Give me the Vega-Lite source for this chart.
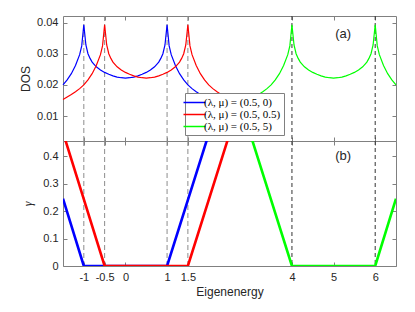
{
  "$schema": "https://vega.github.io/schema/vega-lite/v6.json",
  "padding": {"left": 19, "top": 15, "right": 20, "bottom": 5},
  "spacing": 0,
  "bounds": "flush",
  "config": {
    "view": {"stroke": "#808080", "strokeWidth": 1},
    "axis": {
      "domain": false, "grid": false,
      "labelFont": "Liberation Sans", "labelFontSize": 11, "labelColor": "#262626",
      "titleFont": "Liberation Sans", "titleFontSize": 12, "titleColor": "#262626", "titleFontWeight": "normal",
      "tickColor": "#808080", "tickSize": -4, "labelPadding": 9, "labelExpr": "datum.value + ''"
    },
    "legend": {"zindex": 1}
  },
  "datasets": {
    "dos": [
      {"s": "(λ, μ) = (0.5, 0)", "x": -1.5, "y": 0.0200},
      {"s": "(λ, μ) = (0.5, 0)", "x": -1.4, "y": 0.0216},
      {"s": "(λ, μ) = (0.5, 0)", "x": -1.3, "y": 0.0236},
      {"s": "(λ, μ) = (0.5, 0)", "x": -1.2, "y": 0.0262},
      {"s": "(λ, μ) = (0.5, 0)", "x": -1.1, "y": 0.0297},
      {"s": "(λ, μ) = (0.5, 0)", "x": -1.05, "y": 0.0325},
      {"s": "(λ, μ) = (0.5, 0)", "x": -1.0, "y": 0.0393},
      {"s": "(λ, μ) = (0.5, 0)", "x": -0.95, "y": 0.0328},
      {"s": "(λ, μ) = (0.5, 0)", "x": -0.9, "y": 0.0300},
      {"s": "(λ, μ) = (0.5, 0)", "x": -0.85, "y": 0.0285},
      {"s": "(λ, μ) = (0.5, 0)", "x": -0.8, "y": 0.0273},
      {"s": "(λ, μ) = (0.5, 0)", "x": -0.7, "y": 0.0258},
      {"s": "(λ, μ) = (0.5, 0)", "x": -0.6, "y": 0.0248},
      {"s": "(λ, μ) = (0.5, 0)", "x": -0.5, "y": 0.0240},
      {"s": "(λ, μ) = (0.5, 0)", "x": -0.4, "y": 0.0234},
      {"s": "(λ, μ) = (0.5, 0)", "x": -0.3, "y": 0.0229},
      {"s": "(λ, μ) = (0.5, 0)", "x": -0.2, "y": 0.0225},
      {"s": "(λ, μ) = (0.5, 0)", "x": -0.1, "y": 0.0223},
      {"s": "(λ, μ) = (0.5, 0)", "x": 0.0, "y": 0.0222},
      {"s": "(λ, μ) = (0.5, 0)", "x": 0.1, "y": 0.0223},
      {"s": "(λ, μ) = (0.5, 0)", "x": 0.2, "y": 0.0225},
      {"s": "(λ, μ) = (0.5, 0)", "x": 0.3, "y": 0.0229},
      {"s": "(λ, μ) = (0.5, 0)", "x": 0.4, "y": 0.0234},
      {"s": "(λ, μ) = (0.5, 0)", "x": 0.5, "y": 0.0240},
      {"s": "(λ, μ) = (0.5, 0)", "x": 0.6, "y": 0.0248},
      {"s": "(λ, μ) = (0.5, 0)", "x": 0.7, "y": 0.0258},
      {"s": "(λ, μ) = (0.5, 0)", "x": 0.8, "y": 0.0273},
      {"s": "(λ, μ) = (0.5, 0)", "x": 0.85, "y": 0.0285},
      {"s": "(λ, μ) = (0.5, 0)", "x": 0.9, "y": 0.0300},
      {"s": "(λ, μ) = (0.5, 0)", "x": 0.95, "y": 0.0328},
      {"s": "(λ, μ) = (0.5, 0)", "x": 1.0, "y": 0.0393},
      {"s": "(λ, μ) = (0.5, 0)", "x": 1.05, "y": 0.0325},
      {"s": "(λ, μ) = (0.5, 0)", "x": 1.1, "y": 0.0297},
      {"s": "(λ, μ) = (0.5, 0)", "x": 1.2, "y": 0.0262},
      {"s": "(λ, μ) = (0.5, 0)", "x": 1.3, "y": 0.0236},
      {"s": "(λ, μ) = (0.5, 0)", "x": 1.4, "y": 0.0216},
      {"s": "(λ, μ) = (0.5, 0)", "x": 1.5, "y": 0.0200},
      {"s": "(λ, μ) = (0.5, 0)", "x": 1.6, "y": 0.0188},
      {"s": "(λ, μ) = (0.5, 0)", "x": 1.7, "y": 0.0178},
      {"s": "(λ, μ) = (0.5, 0)", "x": 1.8, "y": 0.0169},
      {"s": "(λ, μ) = (0.5, 0)", "x": 1.9, "y": 0.0161},
      {"s": "(λ, μ) = (0.5, 0)", "x": 2.0, "y": 0.0153},
      {"s": "(λ, μ) = (0.5, 0)", "x": 2.2, "y": 0.0140},
      {"s": "(λ, μ) = (0.5, 0)", "x": 2.4, "y": 0.0129},
      {"s": "(λ, μ) = (0.5, 0)", "x": 2.6, "y": 0.0120},

      {"s": "(λ, μ) = (0.5, 0.5)", "x": -1.5, "y": 0.0153},
      {"s": "(λ, μ) = (0.5, 0.5)", "x": -1.4, "y": 0.0161},
      {"s": "(λ, μ) = (0.5, 0.5)", "x": -1.3, "y": 0.0169},
      {"s": "(λ, μ) = (0.5, 0.5)", "x": -1.2, "y": 0.0178},
      {"s": "(λ, μ) = (0.5, 0.5)", "x": -1.1, "y": 0.0188},
      {"s": "(λ, μ) = (0.5, 0.5)", "x": -1.0, "y": 0.0200},
      {"s": "(λ, μ) = (0.5, 0.5)", "x": -0.9, "y": 0.0216},
      {"s": "(λ, μ) = (0.5, 0.5)", "x": -0.8, "y": 0.0236},
      {"s": "(λ, μ) = (0.5, 0.5)", "x": -0.7, "y": 0.0262},
      {"s": "(λ, μ) = (0.5, 0.5)", "x": -0.6, "y": 0.0297},
      {"s": "(λ, μ) = (0.5, 0.5)", "x": -0.55, "y": 0.0325},
      {"s": "(λ, μ) = (0.5, 0.5)", "x": -0.5, "y": 0.0393},
      {"s": "(λ, μ) = (0.5, 0.5)", "x": -0.45, "y": 0.0328},
      {"s": "(λ, μ) = (0.5, 0.5)", "x": -0.4, "y": 0.0300},
      {"s": "(λ, μ) = (0.5, 0.5)", "x": -0.35, "y": 0.0285},
      {"s": "(λ, μ) = (0.5, 0.5)", "x": -0.3, "y": 0.0273},
      {"s": "(λ, μ) = (0.5, 0.5)", "x": -0.2, "y": 0.0258},
      {"s": "(λ, μ) = (0.5, 0.5)", "x": -0.1, "y": 0.0248},
      {"s": "(λ, μ) = (0.5, 0.5)", "x": 0.0, "y": 0.0240},
      {"s": "(λ, μ) = (0.5, 0.5)", "x": 0.1, "y": 0.0234},
      {"s": "(λ, μ) = (0.5, 0.5)", "x": 0.2, "y": 0.0229},
      {"s": "(λ, μ) = (0.5, 0.5)", "x": 0.3, "y": 0.0225},
      {"s": "(λ, μ) = (0.5, 0.5)", "x": 0.4, "y": 0.0223},
      {"s": "(λ, μ) = (0.5, 0.5)", "x": 0.5, "y": 0.0222},
      {"s": "(λ, μ) = (0.5, 0.5)", "x": 0.6, "y": 0.0223},
      {"s": "(λ, μ) = (0.5, 0.5)", "x": 0.7, "y": 0.0225},
      {"s": "(λ, μ) = (0.5, 0.5)", "x": 0.8, "y": 0.0229},
      {"s": "(λ, μ) = (0.5, 0.5)", "x": 0.9, "y": 0.0234},
      {"s": "(λ, μ) = (0.5, 0.5)", "x": 1.0, "y": 0.0240},
      {"s": "(λ, μ) = (0.5, 0.5)", "x": 1.1, "y": 0.0248},
      {"s": "(λ, μ) = (0.5, 0.5)", "x": 1.2, "y": 0.0258},
      {"s": "(λ, μ) = (0.5, 0.5)", "x": 1.3, "y": 0.0273},
      {"s": "(λ, μ) = (0.5, 0.5)", "x": 1.35, "y": 0.0285},
      {"s": "(λ, μ) = (0.5, 0.5)", "x": 1.4, "y": 0.0300},
      {"s": "(λ, μ) = (0.5, 0.5)", "x": 1.45, "y": 0.0328},
      {"s": "(λ, μ) = (0.5, 0.5)", "x": 1.5, "y": 0.0393},
      {"s": "(λ, μ) = (0.5, 0.5)", "x": 1.55, "y": 0.0325},
      {"s": "(λ, μ) = (0.5, 0.5)", "x": 1.6, "y": 0.0297},
      {"s": "(λ, μ) = (0.5, 0.5)", "x": 1.7, "y": 0.0262},
      {"s": "(λ, μ) = (0.5, 0.5)", "x": 1.8, "y": 0.0236},
      {"s": "(λ, μ) = (0.5, 0.5)", "x": 1.9, "y": 0.0216},
      {"s": "(λ, μ) = (0.5, 0.5)", "x": 2.0, "y": 0.0200},
      {"s": "(λ, μ) = (0.5, 0.5)", "x": 2.1, "y": 0.0188},
      {"s": "(λ, μ) = (0.5, 0.5)", "x": 2.2, "y": 0.0178},
      {"s": "(λ, μ) = (0.5, 0.5)", "x": 2.3, "y": 0.0169},
      {"s": "(λ, μ) = (0.5, 0.5)", "x": 2.4, "y": 0.0161},
      {"s": "(λ, μ) = (0.5, 0.5)", "x": 2.5, "y": 0.0153},
      {"s": "(λ, μ) = (0.5, 0.5)", "x": 2.7, "y": 0.0140},
      {"s": "(λ, μ) = (0.5, 0.5)", "x": 2.9, "y": 0.0129},
      {"s": "(λ, μ) = (0.5, 0.5)", "x": 3.1, "y": 0.0120},

      {"s": "(λ, μ) = (0.5, 5)", "x": 2.4, "y": 0.0120},
      {"s": "(λ, μ) = (0.5, 5)", "x": 2.6, "y": 0.0129},
      {"s": "(λ, μ) = (0.5, 5)", "x": 2.8, "y": 0.0140},
      {"s": "(λ, μ) = (0.5, 5)", "x": 3.0, "y": 0.0153},
      {"s": "(λ, μ) = (0.5, 5)", "x": 3.1, "y": 0.0161},
      {"s": "(λ, μ) = (0.5, 5)", "x": 3.2, "y": 0.0169},
      {"s": "(λ, μ) = (0.5, 5)", "x": 3.3, "y": 0.0178},
      {"s": "(λ, μ) = (0.5, 5)", "x": 3.4, "y": 0.0188},
      {"s": "(λ, μ) = (0.5, 5)", "x": 3.5, "y": 0.0200},
      {"s": "(λ, μ) = (0.5, 5)", "x": 3.6, "y": 0.0216},
      {"s": "(λ, μ) = (0.5, 5)", "x": 3.7, "y": 0.0236},
      {"s": "(λ, μ) = (0.5, 5)", "x": 3.8, "y": 0.0262},
      {"s": "(λ, μ) = (0.5, 5)", "x": 3.9, "y": 0.0297},
      {"s": "(λ, μ) = (0.5, 5)", "x": 3.95, "y": 0.0325},
      {"s": "(λ, μ) = (0.5, 5)", "x": 4.0, "y": 0.0393},
      {"s": "(λ, μ) = (0.5, 5)", "x": 4.05, "y": 0.0328},
      {"s": "(λ, μ) = (0.5, 5)", "x": 4.1, "y": 0.0300},
      {"s": "(λ, μ) = (0.5, 5)", "x": 4.15, "y": 0.0285},
      {"s": "(λ, μ) = (0.5, 5)", "x": 4.2, "y": 0.0273},
      {"s": "(λ, μ) = (0.5, 5)", "x": 4.3, "y": 0.0258},
      {"s": "(λ, μ) = (0.5, 5)", "x": 4.4, "y": 0.0248},
      {"s": "(λ, μ) = (0.5, 5)", "x": 4.5, "y": 0.0240},
      {"s": "(λ, μ) = (0.5, 5)", "x": 4.6, "y": 0.0234},
      {"s": "(λ, μ) = (0.5, 5)", "x": 4.7, "y": 0.0229},
      {"s": "(λ, μ) = (0.5, 5)", "x": 4.8, "y": 0.0225},
      {"s": "(λ, μ) = (0.5, 5)", "x": 4.9, "y": 0.0223},
      {"s": "(λ, μ) = (0.5, 5)", "x": 5.0, "y": 0.0222},
      {"s": "(λ, μ) = (0.5, 5)", "x": 5.1, "y": 0.0223},
      {"s": "(λ, μ) = (0.5, 5)", "x": 5.2, "y": 0.0225},
      {"s": "(λ, μ) = (0.5, 5)", "x": 5.3, "y": 0.0229},
      {"s": "(λ, μ) = (0.5, 5)", "x": 5.4, "y": 0.0234},
      {"s": "(λ, μ) = (0.5, 5)", "x": 5.5, "y": 0.0240},
      {"s": "(λ, μ) = (0.5, 5)", "x": 5.6, "y": 0.0248},
      {"s": "(λ, μ) = (0.5, 5)", "x": 5.7, "y": 0.0258},
      {"s": "(λ, μ) = (0.5, 5)", "x": 5.8, "y": 0.0273},
      {"s": "(λ, μ) = (0.5, 5)", "x": 5.85, "y": 0.0285},
      {"s": "(λ, μ) = (0.5, 5)", "x": 5.9, "y": 0.0300},
      {"s": "(λ, μ) = (0.5, 5)", "x": 5.95, "y": 0.0328},
      {"s": "(λ, μ) = (0.5, 5)", "x": 6.0, "y": 0.0393},
      {"s": "(λ, μ) = (0.5, 5)", "x": 6.05, "y": 0.0325},
      {"s": "(λ, μ) = (0.5, 5)", "x": 6.1, "y": 0.0297},
      {"s": "(λ, μ) = (0.5, 5)", "x": 6.2, "y": 0.0262},
      {"s": "(λ, μ) = (0.5, 5)", "x": 6.3, "y": 0.0236},
      {"s": "(λ, μ) = (0.5, 5)", "x": 6.4, "y": 0.0216},
      {"s": "(λ, μ) = (0.5, 5)", "x": 6.5, "y": 0.0200}
    ],
    "gamma": [
      {"s": "(λ, μ) = (0.5, 0)", "x": -1.5, "y": 0.245},
      {"s": "(λ, μ) = (0.5, 0)", "x": -1.0, "y": 0},
      {"s": "(λ, μ) = (0.5, 0)", "x": 1.0, "y": 0},
      {"s": "(λ, μ) = (0.5, 0)", "x": 2.0, "y": 0.48},
      {"s": "(λ, μ) = (0.5, 0.5)", "x": -1.5, "y": 0.486},
      {"s": "(λ, μ) = (0.5, 0.5)", "x": -0.5, "y": 0},
      {"s": "(λ, μ) = (0.5, 0.5)", "x": 1.5, "y": 0},
      {"s": "(λ, μ) = (0.5, 0.5)", "x": 2.5, "y": 0.48},
      {"s": "(λ, μ) = (0.5, 5)", "x": 3.0, "y": 0.48},
      {"s": "(λ, μ) = (0.5, 5)", "x": 4.0, "y": 0},
      {"s": "(λ, μ) = (0.5, 5)", "x": 6.0, "y": 0},
      {"s": "(λ, μ) = (0.5, 5)", "x": 6.5, "y": 0.245}
    ],
    "edges": [
      {"x": -1, "group": "a"}, {"x": -0.5, "group": "a"}, {"x": 1, "group": "a"}, {"x": 1.5, "group": "a"},
      {"x": 4, "group": "b"}, {"x": 6, "group": "b"}
    ],
    "tagA": [{"x": 5.23, "y": 0.0362, "t": "(a)"}],
    "tagB": [{"x": 5.23, "y": 0.4, "t": "(b)"}]
  },
  "resolve": {"scale": {"color": "independent"}, "legend": {"color": "independent"}},
  "vconcat": [
    {
      "width": 333, "height": 125,
      "resolve": {"axis": {"x": "independent", "y": "independent"}},
      "layer": [
        {
          "data": {"name": "edges"},
          "transform": [{"filter": "datum.group == 'a'"}],
          "mark": {"type": "rule", "color": "#8c8c8c", "strokeDash": [5, 3], "strokeWidth": 1},
          "encoding": {"x": {"field": "x", "type": "quantitative", "scale": {"domain": [-1.5, 6.5], "nice": false, "zero": false}, "axis": null}}
        },
        {
          "data": {"name": "edges"},
          "transform": [{"filter": "datum.group == 'b'"}],
          "mark": {"type": "rule", "color": "#333333", "strokeDash": [4, 3], "strokeWidth": 1},
          "encoding": {"x": {"field": "x", "type": "quantitative", "axis": null}}
        },
        {
          "data": {"name": "dos"},
          "mark": {"type": "line", "strokeWidth": 1.2},
          "encoding": {
            "x": {"field": "x", "type": "quantitative", "axis": {"orient": "bottom", "values": [-1, -0.5, 0, 1, 1.5, 4, 5, 6], "labels": false, "title": null}},
            "y": {"field": "y", "type": "quantitative", "scale": {"domain": [0.002, 0.0421], "nice": false, "zero": false}, "axis": {"orient": "left", "values": [0.01, 0.02, 0.03, 0.04], "title": "DOS", "titlePadding": 4}},
            "color": {"field": "s", "type": "nominal", "scale": {"domain": ["(λ, μ) = (0.5, 0)", "(λ, μ) = (0.5, 0.5)", "(λ, μ) = (0.5, 5)"], "range": ["#0000ff", "#ff0000", "#00ff00"]},
              "legend": {"orient": "none", "legendX": 122, "legendY": 77, "title": null, "fillColor": "white", "strokeColor": "#808080", "padding": 3, "symbolType": "M-2,0H2", "symbolSize": 121, "symbolStrokeWidth": 1.5, "labelFont": "Liberation Serif", "labelFontSize": 11, "labelColor": "#000000", "labelOffset": 3, "rowPadding": 0, "zindex": 1}},
            "order": {"field": "x", "type": "quantitative"}
          }
        },
        {
          "data": {"name": "tagA"},
          "mark": {"type": "text", "font": "Liberation Sans", "fontSize": 13, "color": "#262626"},
          "encoding": {
            "x": {"field": "x", "type": "quantitative", "axis": {"orient": "top", "values": [-1, -0.5, 0, 1, 1.5, 4, 5, 6], "labels": false, "title": null}},
            "y": {"field": "y", "type": "quantitative", "axis": {"orient": "right", "values": [0.01, 0.02, 0.03, 0.04], "labels": false, "title": null}},
            "text": {"field": "t"}
          }
        }
      ]
    },
    {
      "width": 333, "height": 125,
      "resolve": {"axis": {"x": "independent", "y": "independent"}},
      "layer": [
        {
          "data": {"name": "edges"},
          "transform": [{"filter": "datum.group == 'a'"}],
          "mark": {"type": "rule", "color": "#8c8c8c", "strokeDash": [5, 3], "strokeWidth": 1},
          "encoding": {"x": {"field": "x", "type": "quantitative", "scale": {"domain": [-1.5, 6.5], "nice": false, "zero": false}, "axis": null}}
        },
        {
          "data": {"name": "edges"},
          "transform": [{"filter": "datum.group == 'b'"}],
          "mark": {"type": "rule", "color": "#333333", "strokeDash": [4, 3], "strokeWidth": 1},
          "encoding": {"x": {"field": "x", "type": "quantitative", "axis": null}}
        },
        {
          "data": {"name": "gamma"},
          "mark": {"type": "line", "strokeWidth": 2.6, "clip": true},
          "encoding": {
            "x": {"field": "x", "type": "quantitative", "axis": {"orient": "bottom", "values": [-1, -0.5, 0, 1, 1.5, 4, 5, 6], "title": "Eigenenergy", "titlePadding": 4}},
            "y": {"field": "y", "type": "quantitative", "scale": {"domain": [0, 0.455], "nice": false}, "axis": {"orient": "left", "values": [0, 0.1, 0.2, 0.3, 0.4], "title": "γ", "titleFont": "Liberation Serif", "titleFontStyle": "italic", "titlePadding": 8}},
            "color": {"field": "s", "type": "nominal", "scale": {"domain": ["(λ, μ) = (0.5, 0)", "(λ, μ) = (0.5, 0.5)", "(λ, μ) = (0.5, 5)"], "range": ["#0000ff", "#ff0000", "#00ff00"]}, "legend": null},
            "order": {"field": "x", "type": "quantitative"}
          }
        },
        {
          "data": {"name": "tagB"},
          "mark": {"type": "text", "font": "Liberation Sans", "fontSize": 13, "color": "#262626"},
          "encoding": {
            "x": {"field": "x", "type": "quantitative", "axis": {"orient": "top", "values": [-1, -0.5, 0, 1, 1.5, 4, 5, 6], "labels": false, "title": null}},
            "y": {"field": "y", "type": "quantitative", "axis": {"orient": "right", "values": [0, 0.1, 0.2, 0.3, 0.4], "labels": false, "title": null}},
            "text": {"field": "t"}
          }
        }
      ]
    }
  ]
}
